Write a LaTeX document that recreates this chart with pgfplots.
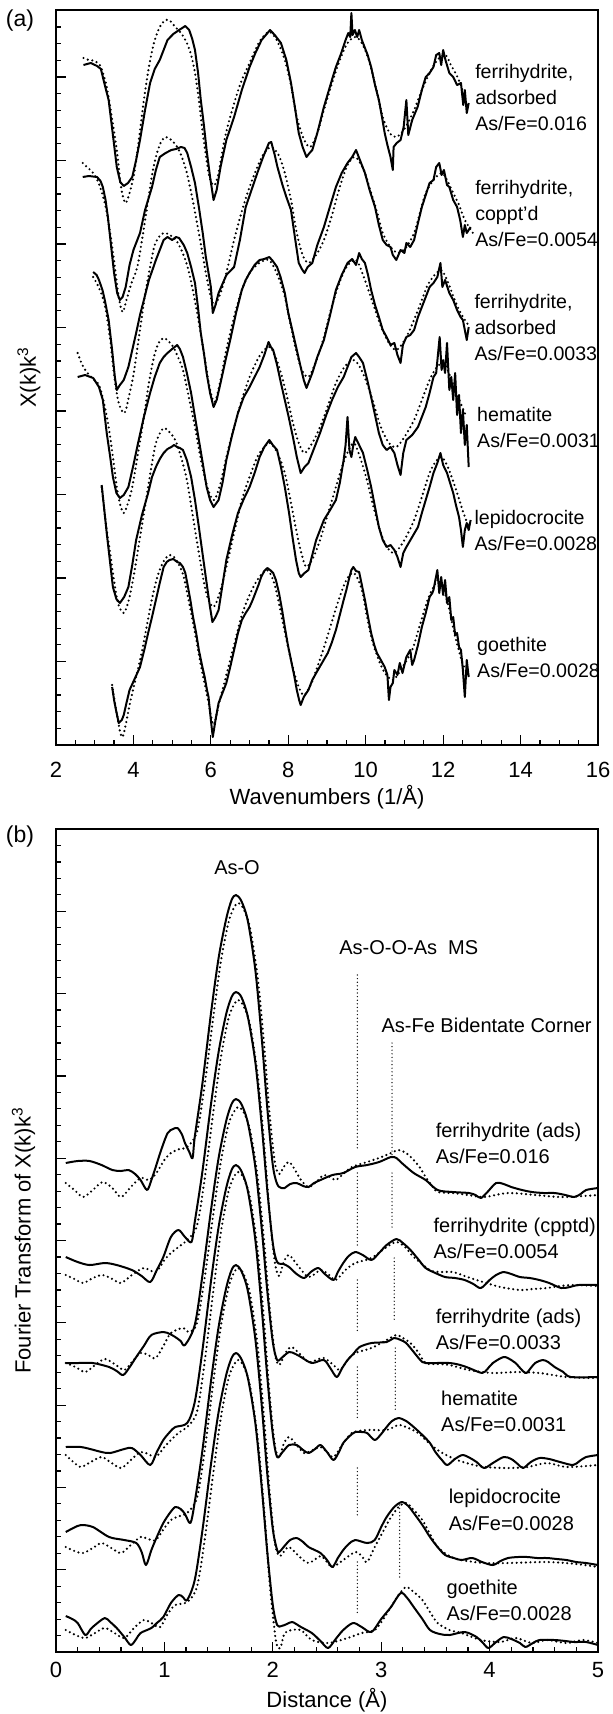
\documentclass[border=0pt]{standalone}
\usepackage{fontspec}
\setmainfont{Liberation Sans}
\usepackage{pgfplots}
\pgfplotsset{compat=1.18}

\tikzset{
  sol/.style={black, line width=1pt, line join=round},
  dotc/.style={black, line width=1.2pt, line cap=round, dash pattern=on 0pt off 2.3pt},
  refl/.style={black, line width=0.7pt, line cap=round, dash pattern=on 0pt off 1.8pt},
  lab/.style={font=\fontsize{9.8}{13}\selectfont, inner sep=0pt, align=left, anchor=west},
}
\pgfplotsset{
  exafs/.style={
    scale only axis, axis line style={line width=0.9pt},
    tick align=inside, xtick pos=bottom, ytick pos=left,
    major tick length=5pt, minor tick length=2.6pt,
    every tick/.style={black, line width=0.6pt},
    yticklabels={},
    /pgf/number format/assume math mode=true,
    tick label style={font=\fontsize{11}{13}\selectfont},
    label style={font=\fontsize{11}{13}\selectfont},
  },
}

\begin{document}
\begin{tikzpicture}
\useasboundingbox (0,0) rectangle (306pt,-857pt);

% ---------------- (a) chi(k) ----------------
\begin{axis}[exafs, at={(28pt,-372.5pt)}, anchor=south west,
  width=271pt, height=367.5pt,
  xmin=2, xmax=16, ymin=0, ymax=735,
  xtick={2,4,...,16}, minor x tick num=3,
  ytick={83.5,167,250.5,334,417.5,501,584.5,668},
  minor ytick={16.7,33.4,...,735},
  xticklabel shift=4.9pt,
  xlabel={Wavenumbers (1/Å)},
  xlabel style={at={(axis description cs:0.5,0)}, anchor=center, yshift=-26pt},
  ylabel={X(k)k\textsuperscript{3}},
  ylabel style={at={(axis description cs:-0.05,0.5)}, anchor=center},
]
% ferrihydrite adsorbed 0.016
\addplot[sol] coordinates {(2.71,680) (2.9,682) (3.06,679) (3.16,676) (3.26,660) (3.36,645) (3.47,610) (3.57,578) (3.66,563) (3.75,559) (3.86,562) (3.97,568) (4.07,585) (4.17,605) (4.3,635) (4.43,662) (4.55,676) (4.68,685) (4.78,695) (4.88,705) (5.03,711) (5.18,715) (5.26,717) (5.34,719) (5.44,715) (5.52,706) (5.59,695) (5.67,672) (5.74,645) (5.82,620) (5.89,595) (5.98,568) (6.07,545) (6.15,555) (6.25,578) (6.4,605) (6.6,628) (6.8,655) (7.0,678) (7.15,692) (7.31,705) (7.42,710) (7.53,715) (7.65,710) (7.81,702) (7.95,685) (8.07,662) (8.17,638) (8.27,612) (8.37,598) (8.47,588) (8.55,592) (8.62,595) (8.75,612) (8.92,638) (9.05,655) (9.15,668) (9.23,678) (9.35,690) (9.48,705) (9.55,712) (9.6,708) (9.63,732) (9.66,710) (9.72,715) (9.78,708) (9.83,715) (9.9,705) (9.95,700) (10.05,690) (10.14,678) (10.24,660) (10.34,645) (10.42,628) (10.49,612) (10.56,600) (10.64,588) (10.7,575) (10.72,598) (10.8,602) (10.9,605) (10.98,618) (11.05,645) (11.1,610) (11.2,625) (11.34,638) (11.45,655) (11.55,668) (11.65,672) (11.75,678) (11.82,690) (11.9,692) (11.95,680) (12.0,695) (12.06,685) (12.16,672) (12.26,668) (12.36,660) (12.46,662) (12.52,640) (12.56,655) (12.61,632) (12.66,642)};
\addplot[dotc, smooth] coordinates {(2.71,687) (2.85,685) (3.0,684) (3.16,678) (3.31,658) (3.44,628) (3.57,595) (3.68,558) (3.79,542) (3.9,552) (4.02,572) (4.15,608) (4.27,645) (4.4,678) (4.53,702) (4.68,718) (4.83,725) (4.95,724) (5.08,718) (5.23,712) (5.38,702) (5.49,690) (5.59,672) (5.69,645) (5.79,612) (5.87,590) (5.94,572) (6.02,562) (6.1,560) (6.2,572) (6.35,605) (6.5,628) (6.75,660) (7.0,682) (7.25,703) (7.5,713) (7.7,705) (7.91,685) (8.07,660) (8.22,628) (8.4,606) (8.57,598) (8.75,612) (8.92,635) (9.13,662) (9.33,685) (9.53,702) (9.73,708) (9.9,702) (10.08,685) (10.26,658) (10.44,628) (10.62,612) (10.79,608) (11.0,616) (11.25,635) (11.45,655) (11.65,672) (11.85,685) (12.06,690) (12.2,680) (12.37,668) (12.5,655) (12.62,638)};
% ferrihydrite coppt'd 0.0054
\addplot[sol] coordinates {(2.69,568) (2.85,569) (3.06,568) (3.15,564) (3.21,558) (3.28,545) (3.34,528) (3.42,500) (3.5,472) (3.58,452) (3.65,445) (3.72,448) (3.8,458) (3.9,480) (4.0,495) (4.08,503) (4.17,512) (4.3,535) (4.48,558) (4.58,575) (4.68,588) (4.83,592) (4.98,595) (5.1,596) (5.23,598) (5.32,597) (5.39,592) (5.49,578) (5.59,562) (5.69,538) (5.79,512) (5.87,488) (5.94,472) (6.0,458) (6.05,432) (6.12,440) (6.2,452) (6.4,470) (6.6,478) (6.75,505) (6.9,538) (7.05,555) (7.2,572) (7.35,588) (7.5,602) (7.56,603) (7.65,590) (7.72,578) (7.85,560) (7.95,548) (8.07,535) (8.17,508) (8.27,482) (8.35,476) (8.42,472) (8.5,478) (8.62,482) (8.75,500) (8.92,518) (9.05,535) (9.23,558) (9.38,572) (9.53,582) (9.65,588) (9.75,595) (9.85,585) (9.98,572) (10.1,555) (10.24,538) (10.34,520) (10.44,505) (10.54,500) (10.64,498) (10.7,490) (10.79,485) (10.9,495) (11.0,492) (11.05,502) (11.15,498) (11.25,505) (11.35,522) (11.45,538) (11.55,550) (11.65,562) (11.75,565) (11.82,578) (11.9,582) (11.96,570) (12.02,575) (12.1,560) (12.16,558) (12.26,545) (12.36,538) (12.44,525) (12.51,508) (12.56,520) (12.61,512) (12.71,518)};
\addplot[dotc, smooth] coordinates {(2.69,582) (2.8,578) (2.96,572) (3.1,562) (3.26,542) (3.4,512) (3.52,478) (3.62,448) (3.72,433) (3.82,445) (3.95,462) (4.1,478) (4.25,512) (4.38,545) (4.48,570) (4.58,588) (4.7,602) (4.83,608) (4.98,605) (5.13,598) (5.25,588) (5.38,572) (5.53,545) (5.69,512) (5.8,488) (5.89,468) (6.0,448) (6.1,440) (6.25,452) (6.4,472) (6.6,505) (6.81,535) (7.0,558) (7.2,578) (7.38,592) (7.56,598) (7.75,590) (7.91,572) (8.07,545) (8.22,512) (8.37,490) (8.52,482) (8.72,490) (8.92,505) (9.13,530) (9.33,558) (9.53,580) (9.73,588) (9.95,575) (10.14,552) (10.3,532) (10.44,512) (10.64,498) (10.84,492) (11.05,498) (11.25,512) (11.4,532) (11.55,552) (11.75,565) (11.96,572) (12.1,565) (12.26,552) (12.41,540) (12.56,525) (12.77,512)};
% ferrihydrite adsorbed 0.0033
\addplot[sol] coordinates {(2.96,473) (3.05,470) (3.11,465) (3.2,455) (3.26,445) (3.36,425) (3.45,395) (3.52,368) (3.57,355) (3.65,360) (3.75,365) (3.87,378) (3.97,395) (4.07,412) (4.17,430) (4.27,445) (4.4,465) (4.5,476) (4.58,485) (4.68,495) (4.78,505) (4.88,508) (5.0,505) (5.1,508) (5.18,507) (5.3,500) (5.39,492) (5.49,478) (5.59,462) (5.66,440) (5.74,412) (5.82,392) (5.89,372) (5.98,352) (6.07,338) (6.15,345) (6.25,362) (6.38,385) (6.5,405) (6.65,432) (6.8,455) (6.9,465) (7.0,472) (7.13,480) (7.26,485) (7.38,486) (7.51,488) (7.6,484) (7.71,478) (7.8,468) (7.91,452) (8.0,432) (8.12,412) (8.22,395) (8.32,378) (8.4,365) (8.47,357) (8.55,365) (8.62,372) (8.75,388) (8.92,405) (9.08,430) (9.23,455) (9.38,470) (9.53,482) (9.65,486) (9.75,480) (9.83,492) (9.9,486) (9.98,482) (10.06,470) (10.14,455) (10.24,440) (10.34,428) (10.44,415) (10.54,408) (10.64,400) (10.74,402) (10.82,390) (10.9,382) (10.96,400) (11.05,408) (11.15,410) (11.25,415) (11.35,428) (11.45,438) (11.55,448) (11.65,458) (11.75,462) (11.85,468) (11.93,482) (11.98,458) (12.05,465) (12.16,452) (12.26,445) (12.36,435) (12.45,428) (12.51,425) (12.56,415) (12.61,405) (12.66,418)};
\addplot[dotc, smooth] coordinates {(2.96,468) (3.1,458) (3.26,440) (3.4,405) (3.5,370) (3.62,342) (3.77,332) (3.88,348) (4.0,370) (4.15,410) (4.3,450) (4.43,478) (4.55,500) (4.7,510) (4.83,512) (4.98,509) (5.1,505) (5.25,494) (5.4,478) (5.55,452) (5.7,420) (5.85,385) (5.98,355) (6.1,343) (6.25,365) (6.4,395) (6.6,428) (6.8,455) (7.0,472) (7.25,482) (7.5,485) (7.7,472) (7.9,450) (8.05,422) (8.2,395) (8.35,375) (8.52,368) (8.7,382) (8.9,405) (9.1,435) (9.3,460) (9.5,478) (9.75,485) (9.95,468) (10.2,440) (10.4,418) (10.6,402) (10.8,395) (11.05,408) (11.3,430) (11.45,445) (11.6,460) (11.78,470) (11.95,475) (12.1,465) (12.3,445) (12.45,432) (12.65,420)};
% hematite 0.0031
\addplot[sol] coordinates {(2.56,368) (2.75,370) (2.96,367) (3.11,358) (3.21,345) (3.31,312) (3.4,288) (3.47,268) (3.56,252) (3.65,247) (3.75,250) (3.87,258) (4.0,280) (4.12,302) (4.27,328) (4.43,352) (4.55,368) (4.68,382) (4.78,388) (4.88,392) (5.0,396) (5.13,400) (5.2,396) (5.28,388) (5.38,372) (5.49,352) (5.59,328) (5.69,305) (5.79,282) (5.89,258) (5.98,245) (6.07,238) (6.2,245) (6.3,262) (6.4,285) (6.55,310) (6.7,332) (6.85,348) (7.0,358) (7.13,368) (7.26,378) (7.38,390) (7.49,403) (7.55,398) (7.61,395) (7.71,380) (7.81,362) (7.91,345) (8.01,328) (8.12,308) (8.22,288) (8.32,272) (8.42,278) (8.52,282) (8.65,295) (8.82,312) (8.98,330) (9.13,345) (9.28,358) (9.43,368) (9.53,378) (9.63,388) (9.75,392) (9.83,388) (9.93,382) (10.04,365) (10.14,348) (10.24,330) (10.34,312) (10.44,300) (10.54,295) (10.64,298) (10.74,292) (10.82,280) (10.9,270) (10.97,292) (11.05,305) (11.2,310) (11.35,318) (11.45,328) (11.55,338) (11.65,352) (11.75,368) (11.82,372) (11.87,392) (11.91,408) (11.96,375) (12.0,385) (12.05,372) (12.1,402) (12.16,355) (12.21,368) (12.26,345) (12.31,372) (12.36,330) (12.41,350) (12.46,312) (12.51,335) (12.56,300) (12.61,320) (12.66,278)};
\addplot[dotc, smooth] coordinates {(2.56,392) (2.68,380) (2.81,372) (2.96,366) (3.11,360) (3.24,342) (3.36,318) (3.47,288) (3.57,258) (3.66,240) (3.75,232) (3.86,242) (3.97,258) (4.12,292) (4.27,328) (4.4,362) (4.53,388) (4.65,402) (4.78,407) (4.9,404) (5.03,398) (5.15,388) (5.28,375) (5.43,348) (5.59,318) (5.72,290) (5.84,268) (5.96,252) (6.09,245) (6.25,262) (6.4,288) (6.6,318) (6.8,345) (7.0,368) (7.2,385) (7.35,394) (7.53,398) (7.67,388) (7.81,372) (7.97,348) (8.12,322) (8.27,302) (8.42,292) (8.62,302) (8.82,318) (9.03,340) (9.23,362) (9.45,378) (9.68,385) (9.85,378) (10.03,362) (10.2,342) (10.39,318) (10.6,302) (10.79,298) (11.0,308) (11.25,325) (11.45,345) (11.65,365) (11.82,377) (12.0,382) (12.15,372) (12.3,355) (12.45,342) (12.6,328)};
% lepidocrocite 0.0028
\addplot[sol] coordinates {(3.18,260) (3.24,238) (3.31,212) (3.39,185) (3.47,158) (3.56,146) (3.65,142) (3.76,148) (3.87,158) (3.97,180) (4.07,205) (4.22,230) (4.38,252) (4.48,268) (4.58,278) (4.68,286) (4.78,292) (4.88,296) (4.98,298) (5.05,300) (5.13,298) (5.2,297) (5.28,295) (5.38,285) (5.49,268) (5.59,245) (5.69,218) (5.79,190) (5.89,162) (5.97,140) (6.04,123) (6.12,128) (6.2,135) (6.3,160) (6.4,185) (6.55,210) (6.7,232) (6.85,246) (7.0,258) (7.13,272) (7.26,288) (7.38,298) (7.51,305) (7.6,300) (7.71,295) (7.81,278) (7.91,258) (8.02,232) (8.12,205) (8.2,185) (8.27,172) (8.32,168) (8.42,172) (8.52,175) (8.62,190) (8.72,205) (8.82,215) (8.92,225) (9.08,235) (9.23,245) (9.33,262) (9.43,285) (9.48,300) (9.53,328) (9.58,295) (9.63,288) (9.68,300) (9.73,308) (9.83,300) (9.93,292) (10.04,275) (10.14,258) (10.24,238) (10.34,218) (10.44,205) (10.54,198) (10.64,200) (10.74,195) (10.82,188) (10.9,178) (10.97,192) (11.05,198) (11.2,208) (11.35,218) (11.45,232) (11.55,245) (11.65,258) (11.75,272) (11.85,282) (11.93,292) (12.0,280) (12.1,272) (12.18,262) (12.26,252) (12.33,240) (12.41,228) (12.46,215) (12.51,198) (12.56,215) (12.61,222) (12.66,215) (12.71,225)};
\addplot[dotc, smooth] coordinates {(3.18,258) (3.3,218) (3.4,192) (3.47,172) (3.6,142) (3.75,132) (3.88,145) (4.02,172) (4.2,215) (4.38,258) (4.48,282) (4.58,302) (4.7,313) (4.8,317) (4.93,313) (5.08,305) (5.23,288) (5.38,265) (5.53,230) (5.69,192) (5.88,152) (6.07,138) (6.25,155) (6.4,178) (6.6,212) (6.8,245) (7.0,268) (7.2,288) (7.38,298) (7.53,302) (7.72,292) (7.91,272) (8.07,242) (8.22,212) (8.35,190) (8.47,178) (8.65,188) (8.82,205) (9.03,232) (9.23,258) (9.45,285) (9.68,302) (9.85,288) (10.03,265) (10.2,238) (10.39,212) (10.55,198) (10.74,192) (11.0,205) (11.25,225) (11.45,248) (11.65,272) (11.8,283) (11.96,288) (12.12,278) (12.31,258) (12.5,235) (12.66,218)};
% goethite 0.0028
\addplot[sol] coordinates {(3.45,58) (3.5,45) (3.55,35) (3.62,22) (3.7,25) (3.75,30) (3.82,42) (3.9,55) (4.03,66) (4.17,78) (4.28,95) (4.38,112) (4.48,128) (4.58,145) (4.68,162) (4.78,178) (4.86,183) (4.93,185) (5.03,186) (5.13,183) (5.2,182) (5.28,178) (5.34,172) (5.39,162) (5.47,145) (5.54,128) (5.62,112) (5.69,95) (5.77,80) (5.84,68) (5.9,55) (5.94,48) (6.0,25) (6.05,8) (6.12,25) (6.2,42) (6.3,52) (6.4,62) (6.5,78) (6.6,95) (6.7,112) (6.8,125) (6.9,132) (7.0,138) (7.08,145) (7.15,152) (7.23,160) (7.3,168) (7.38,174) (7.46,177) (7.53,175) (7.61,172) (7.68,165) (7.76,152) (7.84,135) (7.91,118) (7.99,100) (8.07,85) (8.15,70) (8.22,55) (8.28,45) (8.32,40) (8.4,48) (8.52,55) (8.62,65) (8.72,72) (8.87,82) (9.02,92) (9.12,102) (9.23,115) (9.33,130) (9.43,145) (9.5,155) (9.58,168) (9.63,175) (9.68,178) (9.75,174) (9.83,173) (9.9,160) (9.98,145) (10.06,128) (10.14,112) (10.22,100) (10.29,92) (10.39,85) (10.49,78) (10.56,70) (10.6,45) (10.64,58) (10.7,62) (10.74,75) (10.82,70) (10.88,82) (10.95,72) (11.05,88) (11.15,95) (11.2,80) (11.25,85) (11.35,100) (11.45,118) (11.55,132) (11.65,148) (11.72,152) (11.75,155) (11.8,165) (11.85,175) (11.9,152) (11.95,168) (12.0,150) (12.05,165) (12.1,142) (12.16,148) (12.21,125) (12.26,128) (12.31,110) (12.36,112) (12.41,98) (12.46,95) (12.51,75) (12.56,48) (12.61,85) (12.66,68)};
\addplot[dotc, smooth] coordinates {(3.45,60) (3.53,40) (3.6,25) (3.66,12) (3.72,8) (3.8,20) (3.9,40) (4.05,65) (4.2,90) (4.35,120) (4.5,150) (4.65,172) (4.8,185) (4.93,190) (5.05,188) (5.18,180) (5.3,168) (5.45,140) (5.6,110) (5.75,78) (5.9,50) (6.0,30) (6.08,20) (6.2,40) (6.4,70) (6.6,100) (6.8,130) (7.0,150) (7.2,165) (7.45,175) (7.65,160) (7.9,115) (8.1,80) (8.25,60) (8.4,50) (8.6,62) (8.9,95) (9.1,120) (9.3,145) (9.5,165) (9.7,172) (9.9,155) (10.05,125) (10.2,100) (10.45,75) (10.7,65) (10.95,78) (11.2,95) (11.4,120) (11.6,145) (11.75,158) (11.9,165) (12.1,145) (12.3,110) (12.5,82) (12.65,70)};

\node[lab] at (axis cs:12.82,648) {ferrihydrite,\\adsorbed\\As/Fe=0.016};
\node[lab] at (axis cs:12.82,532) {ferrihydrite,\\coppt'd\\As/Fe=0.0054};
\node[lab] at (axis cs:12.80,418) {ferrihydrite,\\adsorbed\\As/Fe=0.0033};
\node[lab] at (axis cs:12.87,318) {hematite\\As/Fe=0.0031};
\node[lab] at (axis cs:12.80,215) {lepidocrocite\\As/Fe=0.0028};
\node[lab] at (axis cs:12.87,88) {goethite\\As/Fe=0.0028};
\end{axis}

% ---------------- (b) Fourier transform ----------------
\begin{axis}[exafs, at={(28pt,-826pt)}, anchor=south west,
  width=271pt, height=411.5pt,
  xmin=0, xmax=5, ymin=0, ymax=823,
  xtick={0,1,...,5}, minor x tick num=4,
  ytick={82.3,164.6,...,823},
  minor ytick={16.46,32.92,...,823},
  xticklabel shift=1.4pt,
  xlabel={Distance (Å)},
  xlabel style={at={(axis description cs:0.5,0)}, anchor=center, yshift=-24pt},
  ylabel={Fourier Transform of X(k)k\textsuperscript{3}},
  ylabel style={at={(axis description cs:-0.06,0.5)}, anchor=center},
]
% reference lines
\addplot[refl] coordinates {(2.78,677) (2.78,502)};
\addplot[refl] coordinates {(2.78,479) (2.78,407)};
\addplot[refl] coordinates {(2.78,372) (2.78,320)};
\addplot[refl] coordinates {(2.78,285) (2.78,234)};
\addplot[refl] coordinates {(2.78,184) (2.78,134)};
\addplot[refl] coordinates {(2.78,90) (2.78,37)};
\addplot[refl] coordinates {(3.10,609) (3.10,495)};
\addplot[refl] coordinates {(3.10,479) (3.10,422)};
\addplot[refl] coordinates {(3.12,394) (3.12,332)};
\addplot[refl] coordinates {(3.13,304) (3.13,242)};
\addplot[refl] coordinates {(3.17,147) (3.17,74)};
% ferrihydrite (ads) 0.016
\addplot[sol, smooth, tension=0.5] coordinates {(0.09,489) (0.2,491) (0.31,491) (0.42,487) (0.52,482) (0.6,481) (0.67,482) (0.73,478) (0.78,472) (0.84,462) (0.88,472) (0.92,485) (0.97,502) (1.03,519) (1.08,523) (1.12,524) (1.16,518) (1.19,509) (1.23,500) (1.26,494) (1.28,515) (1.35,568) (1.43,639) (1.50,694) (1.57,733) (1.62,752) (1.66,757) (1.71,751) (1.77,731) (1.84,681) (1.90,611) (1.95,543) (2.00,487) (2.04,468) (2.08,464) (2.11,464) (2.16,468) (2.22,469) (2.28,466) (2.33,465) (2.38,469) (2.44,472) (2.55,477) (2.65,479) (2.76,485) (2.87,487) (2.98,490) (3.09,495) (3.14,494) (3.19,489) (3.3,479) (3.41,472) (3.52,462) (3.66,460) (3.81,459) (3.87,457) (3.92,454) (3.98,460) (4.06,469) (4.13,468) (4.2,465) (4.3,462) (4.39,460) (4.5,459) (4.6,459) (4.7,457) (4.78,455) (4.84,458) (4.89,462) (5.0,464)};
\addplot[dotc, smooth, tension=0.5] coordinates {(0.09,469) (0.17,462) (0.25,455) (0.34,462) (0.43,470) (0.52,464) (0.6,455) (0.69,465) (0.78,474) (0.86,472) (0.92,478) (1.0,492) (1.06,499) (1.14,503) (1.21,505) (1.30,520) (1.37,566) (1.45,634) (1.52,690) (1.59,729) (1.64,744) (1.68,749) (1.73,743) (1.79,724) (1.86,675) (1.92,607) (1.97,538) (2.02,489) (2.06,478) (2.1,485) (2.15,490) (2.2,483) (2.26,472) (2.33,465) (2.4,470) (2.47,477) (2.53,475) (2.58,472) (2.65,478) (2.73,485) (2.87,490) (2.98,494) (3.09,499) (3.16,502) (3.23,499) (3.3,492) (3.36,484) (3.41,475) (3.47,466) (3.52,460) (3.66,459) (3.8,457) (3.95,455) (4.17,459) (4.42,457) (4.67,455) (5.0,457)};
% ferrihydrite (cpptd) 0.0054
\addplot[sol, smooth, tension=0.5] coordinates {(0.09,395) (0.2,390) (0.31,387) (0.45,389) (0.56,387) (0.7,382) (0.79,376) (0.87,370) (0.93,382) (0.99,395) (1.06,415) (1.13,422) (1.19,415) (1.25,410) (1.28,430) (1.35,480) (1.43,548) (1.50,600) (1.57,638) (1.62,655) (1.66,660) (1.71,655) (1.77,635) (1.84,589) (1.90,524) (1.95,461) (2.00,409) (2.04,390) (2.1,388) (2.15,385) (2.22,378) (2.29,374) (2.35,380) (2.42,384) (2.48,378) (2.56,372) (2.6,380) (2.65,389) (2.7,396) (2.76,400) (2.83,397) (2.91,392) (2.98,399) (3.05,407) (3.14,413) (3.2,409) (3.27,402) (3.34,393) (3.41,384) (3.5,379) (3.59,375) (3.68,374) (3.77,372) (3.85,368) (3.92,364) (4.0,372) (4.06,377) (4.13,380) (4.2,378) (4.28,375) (4.37,374) (4.46,372) (4.55,369) (4.66,364) (4.74,365) (4.82,367) (5.0,367)};
\addplot[dotc, smooth, tension=0.5] coordinates {(0.09,377) (0.17,373) (0.25,369) (0.34,374) (0.43,377) (0.52,373) (0.6,369) (0.7,377) (0.81,384) (0.92,380) (1.0,392) (1.06,399) (1.13,405) (1.21,412) (1.30,426) (1.37,472) (1.45,539) (1.52,594) (1.59,633) (1.64,647) (1.68,652) (1.73,646) (1.79,627) (1.86,577) (1.92,508) (1.97,439) (2.02,389) (2.06,376) (2.1,390) (2.15,397) (2.22,388) (2.33,375) (2.44,382) (2.51,378) (2.58,372) (2.67,382) (2.76,389) (2.91,394) (3.05,405) (3.14,410) (3.22,405) (3.3,395) (3.45,382) (3.55,380) (3.66,380) (3.77,376) (3.88,372) (4.0,368) (4.1,365) (4.28,362) (4.4,363) (4.53,364) (4.65,366) (4.78,367) (5.0,366)};
% ferrihydrite (ads) 0.0033
\addplot[sol, smooth, tension=0.5] coordinates {(0.09,289) (0.2,289) (0.34,289) (0.49,285) (0.56,281) (0.62,277) (0.68,285) (0.74,295) (0.81,306) (0.88,317) (0.99,320) (1.05,318) (1.1,315) (1.15,311) (1.19,307) (1.28,327) (1.35,376) (1.43,442) (1.50,494) (1.57,531) (1.62,548) (1.66,553) (1.71,548) (1.77,529) (1.84,484) (1.90,421) (1.95,360) (2.00,310) (2.04,292) (2.08,294) (2.15,300) (2.21,298) (2.26,295) (2.36,289) (2.47,292) (2.53,284) (2.59,275) (2.64,284) (2.69,292) (2.75,299) (2.8,305) (2.91,309) (3.05,310) (3.12,314) (3.18,312) (3.23,309) (3.3,300) (3.38,290) (3.45,289) (3.63,289) (3.73,287) (3.81,284) (3.93,279) (3.98,283) (4.03,289) (4.13,295) (4.2,292) (4.24,289) (4.33,279) (4.38,284) (4.42,289) (4.49,292) (4.54,290) (4.6,285) (4.68,280) (4.75,275) (5.0,275)};
\addplot[dotc, smooth, tension=0.5] coordinates {(0.09,289) (0.18,285) (0.27,280) (0.36,287) (0.45,293) (0.54,288) (0.63,282) (0.7,290) (0.78,299) (0.85,297) (0.92,294) (1.0,308) (1.06,319) (1.17,324) (1.23,320) (1.30,329) (1.37,373) (1.45,437) (1.52,490) (1.59,527) (1.64,540) (1.68,545) (1.73,540) (1.79,522) (1.86,475) (1.92,410) (1.97,345) (2.02,298) (2.06,287) (2.11,298) (2.17,305) (2.25,298) (2.33,290) (2.4,292) (2.47,294) (2.55,288) (2.62,282) (2.69,292) (2.76,299) (2.91,304) (3.05,312) (3.14,317) (3.2,314) (3.27,309) (3.34,300) (3.41,289) (3.52,288) (3.63,287) (3.81,282) (4.03,279) (4.24,280) (4.46,279) (4.71,275) (5.0,274)};
% hematite 0.0031
\addplot[sol, smooth, tension=0.5] coordinates {(0.09,205) (0.23,205) (0.35,202) (0.42,200) (0.5,199) (0.63,203) (0.7,204) (0.78,197) (0.87,187) (0.93,200) (0.99,212) (1.05,220) (1.1,225) (1.21,229) (1.28,250) (1.35,301) (1.43,371) (1.50,425) (1.57,464) (1.62,482) (1.66,487) (1.71,481) (1.77,461) (1.84,411) (1.90,341) (1.95,274) (2.00,218) (2.04,195) (2.09,200) (2.15,207) (2.22,207) (2.28,202) (2.33,199) (2.39,203) (2.44,207) (2.5,200) (2.56,192) (2.61,200) (2.65,209) (2.71,216) (2.76,220) (2.82,220) (2.87,219) (2.94,212) (3.0,218) (3.05,225) (3.1,231) (3.16,234) (3.23,231) (3.3,225) (3.38,217) (3.45,209) (3.5,200) (3.56,192) (3.61,187) (3.68,193) (3.75,197) (3.82,194) (3.88,190) (3.95,184) (4.03,189) (4.13,195) (4.2,193) (4.26,188) (4.31,184) (4.38,190) (4.46,194) (4.55,193) (4.65,190) (4.77,187) (4.83,191) (4.89,195) (5.0,197)};
\addplot[dotc, smooth, tension=0.5] coordinates {(0.09,197) (0.16,190) (0.23,185) (0.32,190) (0.42,195) (0.5,190) (0.6,184) (0.69,192) (0.78,200) (0.85,198) (0.92,195) (1.0,205) (1.06,212) (1.14,220) (1.21,225) (1.30,240) (1.37,289) (1.45,360) (1.52,419) (1.59,460) (1.64,475) (1.68,480) (1.73,474) (1.79,454) (1.86,402) (1.92,330) (1.97,258) (2.02,206) (2.06,195) (2.1,208) (2.15,215) (2.22,207) (2.29,199) (2.37,202) (2.44,205) (2.5,200) (2.56,195) (2.64,207) (2.73,219) (2.87,222) (3.05,222) (3.16,227) (3.25,224) (3.34,219) (3.43,210) (3.52,202) (3.6,197) (3.7,192) (3.82,188) (3.95,185) (4.17,184) (4.35,185) (4.53,189) (4.71,185) (5.0,187)};
% lepidocrocite 0.0028
\addplot[sol, smooth, tension=0.5] coordinates {(0.09,120) (0.16,124) (0.23,127) (0.34,125) (0.49,115) (0.63,112) (0.74,109) (0.79,100) (0.83,87) (0.88,102) (0.93,115) (0.99,129) (1.05,139) (1.1,145) (1.15,143) (1.19,138) (1.24,129) (1.28,150) (1.35,201) (1.43,271) (1.50,325) (1.57,364) (1.62,382) (1.66,387) (1.71,381) (1.77,361) (1.84,312) (1.90,244) (1.95,177) (2.00,123) (2.04,102) (2.06,100) (2.1,105) (2.16,112) (2.22,114) (2.28,110) (2.33,105) (2.44,99) (2.5,92) (2.55,85) (2.6,94) (2.65,102) (2.7,108) (2.76,112) (2.87,109) (2.94,112) (3.0,125) (3.05,135) (3.12,145) (3.19,150) (3.25,146) (3.3,139) (3.38,127) (3.45,115) (3.52,105) (3.59,97) (3.67,94) (3.74,92) (3.84,94) (3.93,90) (4.03,87) (4.1,91) (4.17,94) (4.26,95) (4.35,95) (4.44,94) (4.53,94) (4.62,93) (4.71,92) (4.8,90) (4.89,89) (5.0,87)};
\addplot[dotc, smooth, tension=0.5] coordinates {(0.09,105) (0.17,101) (0.25,99) (0.34,104) (0.42,109) (0.51,104) (0.6,99) (0.69,107) (0.78,115) (0.85,113) (0.92,112) (1.0,124) (1.06,132) (1.14,136) (1.21,139) (1.30,154) (1.37,200) (1.45,269) (1.52,325) (1.59,364) (1.64,379) (1.68,384) (1.73,378) (1.79,358) (1.86,306) (1.92,233) (1.97,161) (2.02,109) (2.06,96) (2.1,100) (2.15,105) (2.24,96) (2.33,89) (2.44,96) (2.5,90) (2.55,85) (2.65,92) (2.76,100) (2.82,96) (2.87,90) (2.94,105) (3.01,119) (3.08,133) (3.16,145) (3.23,149) (3.3,142) (3.38,132) (3.45,118) (3.52,105) (3.63,96) (3.74,92) (3.95,89) (4.17,89) (4.53,90) (4.8,88) (5.0,85)};
% goethite 0.0028
\addplot[sol, smooth, tension=0.5] coordinates {(0.09,36) (0.15,33) (0.2,29) (0.27,17) (0.32,23) (0.36,27) (0.45,34) (0.5,30) (0.56,24) (0.63,15) (0.69,7) (0.74,13) (0.78,19) (0.88,24) (0.93,29) (0.99,35) (1.06,49) (1.13,57) (1.17,55) (1.21,52) (1.28,72) (1.35,121) (1.43,188) (1.50,240) (1.57,277) (1.62,294) (1.66,299) (1.71,293) (1.77,274) (1.84,228) (1.90,162) (1.95,99) (2.00,47) (2.04,27) (2.08,26) (2.13,28) (2.18,30) (2.26,25) (2.36,19) (2.44,11) (2.51,4) (2.58,13) (2.65,22) (2.74,29) (2.82,25) (2.91,20) (3.0,33) (3.09,45) (3.18,59) (3.24,54) (3.3,45) (3.38,33) (3.45,22) (3.54,18) (3.63,17) (3.77,20) (3.88,15) (3.94,9) (3.99,4) (4.06,10) (4.13,15) (4.2,13) (4.28,9) (4.33,5) (4.4,9) (4.46,12) (4.6,12) (4.7,11) (4.78,10) (4.89,10) (5.0,7)};
\addplot[dotc, smooth, tension=0.5] coordinates {(0.09,22) (0.18,17) (0.27,14) (0.36,19) (0.45,24) (0.54,19) (0.63,14) (0.72,24) (0.81,32) (0.88,29) (0.96,25) (1.03,38) (1.1,47) (1.21,50) (1.30,65) (1.37,111) (1.45,178) (1.52,234) (1.59,273) (1.64,287) (1.68,292) (1.73,286) (1.79,266) (1.86,214) (1.92,142) (1.97,70) (2.02,18) (2.04,6) (2.07,4) (2.11,19) (2.18,22) (2.26,22) (2.36,12) (2.51,9) (2.69,14) (2.82,19) (2.94,22) (3.02,33) (3.09,45) (3.16,57) (3.23,65) (3.3,60) (3.38,52) (3.45,40) (3.52,29) (3.63,22) (3.74,19) (3.92,12) (4.1,10) (4.24,14) (4.39,9) (4.53,12) (4.71,9) (4.86,12) (5.0,9)};

\node[font=\fontsize{10}{13}\selectfont, inner sep=0pt] at (axis cs:1.67,784) {As-O};
\node[lab, font=\fontsize{10}{13}\selectfont] at (axis cs:2.61,704) {As-O-O-As\ \ MS};
\node[lab, font=\fontsize{10}{13}\selectfont] at (axis cs:3.0,627) {As-Fe Bidentate Corner};
\node[lab, font=\fontsize{10}{13.3}\selectfont] at (axis cs:3.50,508.5) {ferrihydrite (ads)\\As/Fe=0.016};
\node[lab, font=\fontsize{10}{13.3}\selectfont] at (axis cs:3.48,413.5) {ferrihydrite (cpptd)\\As/Fe=0.0054};
\node[lab, font=\fontsize{10}{13.3}\selectfont] at (axis cs:3.50,322.5) {ferrihydrite (ads)\\As/Fe=0.0033};
\node[lab, font=\fontsize{10}{13.3}\selectfont] at (axis cs:3.55,240.5) {hematite\\As/Fe=0.0031};
\node[lab, font=\fontsize{10}{13.3}\selectfont] at (axis cs:3.62,142) {lepidocrocite\\As/Fe=0.0028};
\node[lab, font=\fontsize{10}{13.3}\selectfont] at (axis cs:3.60,51.5) {goethite\\As/Fe=0.0028};
\end{axis}

% panel letters
\node[font=\fontsize{11.5}{13}\selectfont] at (10pt,-10.5pt) {(a)};
\node[font=\fontsize{11.5}{13}\selectfont] at (10pt,-418.5pt) {(b)};
\end{tikzpicture}
\end{document}
